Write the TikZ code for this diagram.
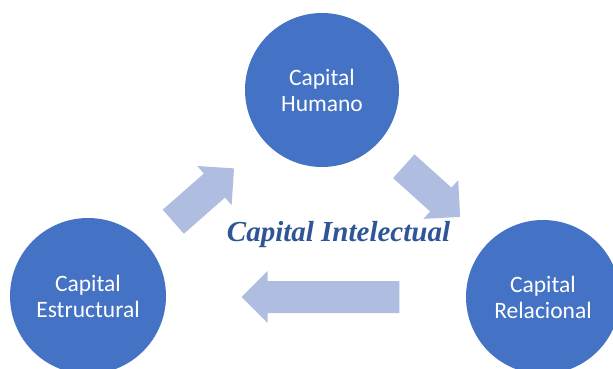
\documentclass[tikz,border=0pt]{standalone}
\usepackage{fontspec}
\setmainfont{Carlito}
\newfontfamily\titlefont{Liberation Serif}
\definecolor{circblue}{HTML}{4472C4}
\definecolor{arrowfill}{RGB}{175,189,224}
\definecolor{titleblue}{HTML}{2F5597}
\tikzset{
  capcircle/.style={circle, fill=circblue, minimum size=154pt, inner sep=0pt,
    text=white, align=center, font=\fontsize{23.5}{26}\selectfont},
  pics/blockarrow/.style={code={
    \fill[arrowfill] (0,-16) -- (#1-26,-16) -- (#1-26,-26) -- (#1,0)
      -- (#1-26,26) -- (#1-26,16) -- (0,16) -- cycle;}}
}
\begin{document}
\begin{tikzpicture}[x=1pt,y=-1pt]
\useasboundingbox (0,0) rectangle (613,368);
\clip (0,0) rectangle (613,368);
\fill[white] (0,0) rectangle (613,368);
\node[capcircle] (humano) at (322,90) {Capital\\Humano};
\node[capcircle, minimum size=156pt] (estructural) at (88,296) {Capital\\Estructural};
\node[capcircle] (relacional) at (543,297) {Capital\\Relacional};
\pic[rotate=41.3] (a1) at (173.3,221.7) {blockarrow=80.8};
\pic[rotate=-42] (a2) at (403.8,166.2) {blockarrow=75.8};
\pic[rotate=180] (a3) at (399.3,297) {blockarrow=157.6};
\node[anchor=base, inner sep=0pt, text=titleblue,
  font=\titlefont\bfseries\itshape\fontsize{29}{34}\selectfont] (title) at (338.5,241.7) {Capital Intelectual};
\end{tikzpicture}
\end{document}
